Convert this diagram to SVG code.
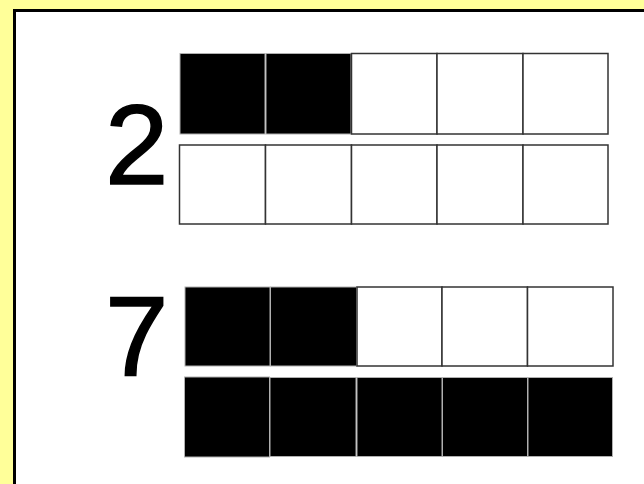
<svg xmlns="http://www.w3.org/2000/svg" width="644" height="484" viewBox="0 0 644 484">
  <style>
    .num { font-family: "Liberation Sans", Arial, sans-serif; font-size: 114px; fill: #000; stroke: #000; stroke-width: 1.5; }
    .on { fill: #000; stroke: #b0b0b0; stroke-width: 1; }
    .off { fill: #fff; stroke: #333; stroke-width: 1.5; }
  </style>
  <rect x="0" y="0" width="644" height="484" fill="#ffff99"/>
  <rect x="14.5" y="10.5" width="660" height="500" fill="#fff" stroke="#000" stroke-width="3"/>
  <g id="fraction-2-10">
    <text class="num" x="105" y="184">2</text>
    <g id="row1">
      <rect class="on" x="180" y="53.5" width="85" height="80.5"/>
      <rect class="on" x="266" y="53.5" width="85" height="80.5"/>
      <rect class="off" x="351.5" y="53.5" width="85.5" height="80.5"/>
      <rect class="off" x="437" y="53.5" width="86" height="80.5"/>
      <rect class="off" x="523" y="53.5" width="85" height="80.5"/>
    </g>
    <g id="row2">
      <rect class="off" x="179.5" y="145" width="86" height="79"/>
      <rect class="off" x="265.5" y="145" width="86" height="79"/>
      <rect class="off" x="351.5" y="145" width="85.5" height="79"/>
      <rect class="off" x="437" y="145" width="86" height="79"/>
      <rect class="off" x="523" y="145" width="85" height="79"/>
    </g>
  </g>
  <g id="fraction-7-10">
    <text class="num" x="105" y="376">7</text>
    <g id="row3">
      <rect class="on" x="185" y="287" width="85" height="79"/>
      <rect class="on" x="270.5" y="287" width="86" height="79"/>
      <rect class="off" x="357" y="287" width="85" height="79"/>
      <rect class="off" x="442" y="287" width="85.5" height="79"/>
      <rect class="off" x="527.5" y="287" width="85.5" height="79"/>
    </g>
    <g id="row4">
      <rect class="on" x="184.5" y="377" width="85" height="80"/>
      <rect class="on" x="270" y="377.5" width="86" height="79"/>
      <rect class="on" x="357" y="377.5" width="85" height="79"/>
      <rect class="on" x="442.5" y="377.5" width="85" height="79"/>
      <rect class="on" x="528" y="377.5" width="84.5" height="79"/>
    </g>
  </g>
</svg>
